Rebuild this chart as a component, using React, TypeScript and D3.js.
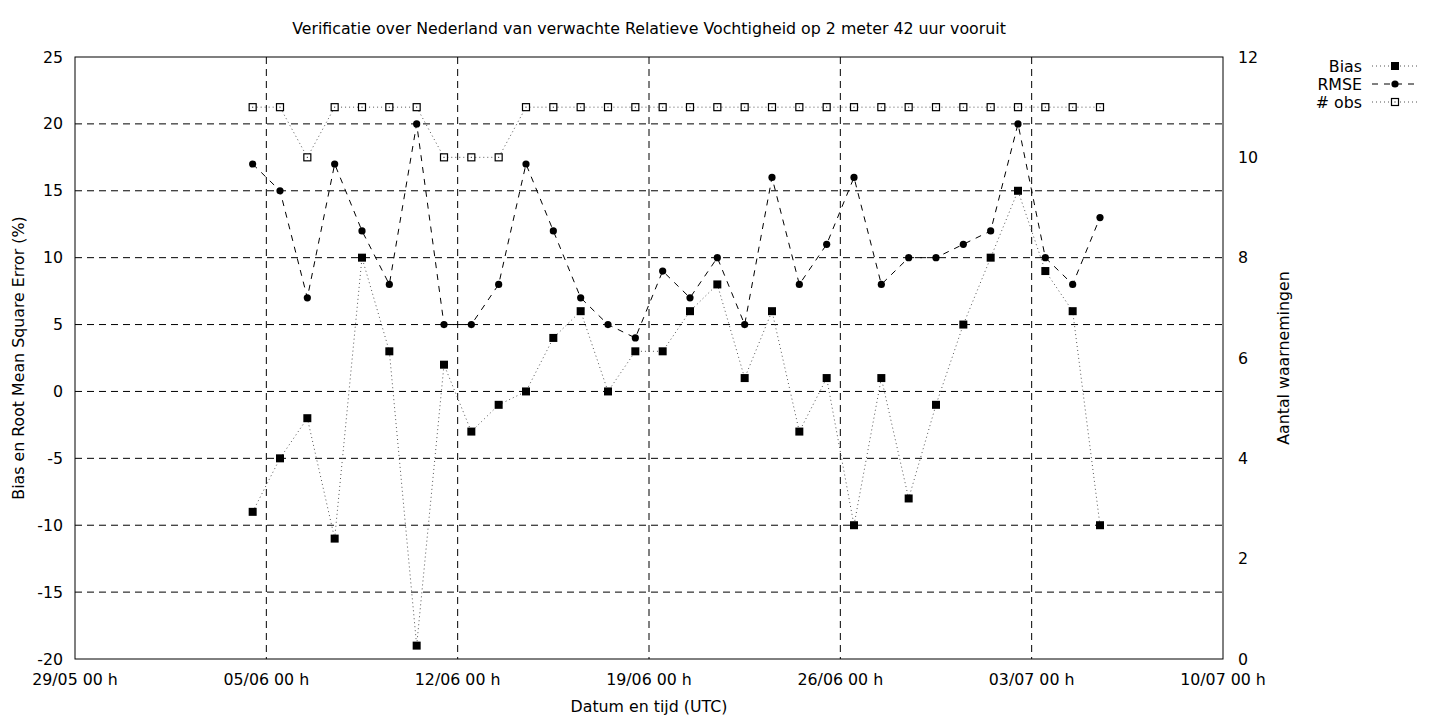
import React from 'react';
import * as d3 from 'd3';

// valid times (12 UTC each day)
const dates = [
  '2024-06-04', '2024-06-05', '2024-06-06', '2024-06-07', '2024-06-08', '2024-06-09', '2024-06-10', '2024-06-11',
  '2024-06-12', '2024-06-13', '2024-06-14', '2024-06-15', '2024-06-16', '2024-06-17', '2024-06-18', '2024-06-19',
  '2024-06-20', '2024-06-21', '2024-06-22', '2024-06-23', '2024-06-24', '2024-06-25', '2024-06-26', '2024-06-27',
  '2024-06-28', '2024-06-29', '2024-06-30', '2024-07-01', '2024-07-02', '2024-07-03', '2024-07-04', '2024-07-05',
];
const bias = [-9, -5, -2, -11, 10, 3, -19, 2, -3, -1, 0, 4, 6, 0, 3, 3, 6, 8, 1, 6, -3, 1, -10, 1, -8, -1, 5, 10, 15, 9, 6, -10];
const rmse = [17, 15, 7, 17, 12, 8, 20, 5, 5, 8, 17, 12, 7, 5, 4, 9, 7, 10, 5, 16, 8, 11, 16, 8, 10, 10, 11, 12, 20, 10, 8, 13];
const obs = [11, 11, 10, 11, 11, 11, 11, 10, 10, 10, 11, 11, 11, 11, 11, 11, 11, 11, 11, 11, 11, 11, 11, 11, 11, 11, 11, 11, 11, 11, 11, 11];

const xTicks = ['2024-05-29', '2024-06-05', '2024-06-12', '2024-06-19', '2024-06-26', '2024-07-03', '2024-07-10'];
const yTicks = [-20, -15, -10, -5, 0, 5, 10, 15, 20, 25];
const y2Ticks = [0, 2, 4, 6, 8, 10, 12];

const W = 1440;
const H = 720;
const margin = { left: 75, right: 1223, top: 57, bottom: 659 };
const FONT = '"DejaVu Sans", sans-serif';
const FS = 15.8;

const parse = (s: string) => new Date(s + 'T00:00:00Z');
const validTime = (s: string) => new Date(s + 'T12:00:00Z');
const fmt = d3.utcFormat('%d/%m %H h');

export default function App() {
  const x = d3.scaleUtc()
    .domain([parse(xTicks[0]), parse(xTicks[xTicks.length - 1])])
    .range([margin.left, margin.right]);
  const y = d3.scaleLinear().domain([-20, 25]).range([margin.bottom, margin.top]);
  const y2 = d3.scaleLinear().domain([0, 12]).range([margin.bottom, margin.top]);

  const xs = dates.map(validTime);
  const biasLine = d3.line<number>().x((_, i) => x(xs[i])).y(d => y(d))(bias) || '';
  const rmseLine = d3.line<number>().x((_, i) => x(xs[i])).y(d => y(d))(rmse) || '';
  const obsLine = d3.line<number>().x((_, i) => x(xs[i])).y(d => y2(d))(obs) || '';

  const grid = '7,5';
  const dotted = '1,3';
  const dashed = '6,6';

  const legendItems = [
    { label: 'Bias', dash: dotted, mark: 'sq', y: 66 },
    { label: 'RMSE', dash: dashed, mark: 'ci', y: 84 },
    { label: '# obs', dash: dotted, mark: 'osq', y: 102 },
  ];

  const marker = (kind: string, cx: number, cy: number, key: string | number) => {
    if (kind === 'sq') return <rect key={key} x={cx - 4} y={cy - 4} width={8} height={8} fill="#000" />;
    if (kind === 'ci') return <circle key={key} cx={cx} cy={cy} r={3.6} fill="#000" />;
    return (
      <g key={key}>
        <rect x={cx - 3.5} y={cy - 3.5} width={7} height={7} fill="#fff" stroke="#000" strokeWidth={1.2} />
        <rect x={cx - 0.5} y={cy - 0.5} width={1} height={1} fill="#000" />
      </g>
    );
  };

  return (
    <div style={{ position: 'absolute', left: 0, top: 0 }}>
      <svg width={W} height={H} style={{ display: 'block', background: '#fff' }} fontFamily={FONT} fontSize={FS}>
        {/* grid */}
        {yTicks.slice(1, -1).map(t => (
          <line key={'gy' + t} x1={margin.left} x2={margin.right} y1={y(t)} y2={y(t)} stroke="#000" strokeWidth={1} strokeDasharray={grid} />
        ))}
        {xTicks.slice(1, -1).map(t => (
          <line key={'gx' + t} x1={x(parse(t))} x2={x(parse(t))} y1={margin.top} y2={margin.bottom} stroke="#000" strokeWidth={1} strokeDasharray={grid} />
        ))}

        {/* frame */}
        <rect x={margin.left} y={margin.top} width={margin.right - margin.left} height={margin.bottom - margin.top} fill="none" stroke="#000" strokeWidth={1} />

        {/* y ticks left */}
        {yTicks.map(t => (
          <text key={'yl' + t} x={63} y={y(t)} dy="0.35em" textAnchor="end">{t}</text>
        ))}
        {/* y ticks right */}
        {y2Ticks.map(t => (
          <text key={'yr' + t} x={1238} y={y2(t)} dy="0.35em" textAnchor="start">{t}</text>
        ))}
        {/* x ticks */}
        {xTicks.map(t => (
          <text key={'xt' + t} x={x(parse(t))} y={685} textAnchor="middle">{fmt(parse(t))}</text>
        ))}

        {/* series */}
        <path d={obsLine} fill="none" stroke="#555" strokeWidth={1} strokeDasharray={dotted} />
        <path d={biasLine} fill="none" stroke="#555" strokeWidth={1} strokeDasharray={dotted} />
        <path d={rmseLine} fill="none" stroke="#000" strokeWidth={1} strokeDasharray={dashed} />
        {obs.map((v, i) => marker('osq', x(xs[i]), y2(v), 'o' + i))}
        {bias.map((v, i) => marker('sq', x(xs[i]), y(v), 'b' + i))}
        {rmse.map((v, i) => marker('ci', x(xs[i]), y(v), 'r' + i))}

        {/* titles */}
        <text x={649} y={34} textAnchor="middle">Verificatie over Nederland van verwachte Relatieve Vochtigheid op 2 meter 42 uur vooruit</text>
        <text x={649} y={712} textAnchor="middle">Datum en tijd (UTC)</text>
        <text transform={`translate(24,358) rotate(-90)`} textAnchor="middle">Bias en Root Mean Square Error (%)</text>
        <text transform={`translate(1289,358) rotate(-90)`} textAnchor="middle">Aantal waarnemingen</text>

        {/* legend */}
        {legendItems.map(l => (
          <g key={l.label}>
            <text x={1362} y={l.y} dy="0.35em" textAnchor="end">{l.label}</text>
            <line x1={1372} x2={1418} y1={l.y} y2={l.y} stroke={l.mark === 'ci' ? '#000' : '#555'} strokeWidth={1} strokeDasharray={l.dash} />
            {marker(l.mark, 1395, l.y, 'lm' + l.label)}
          </g>
        ))}
      </svg>
    </div>
  );
}
